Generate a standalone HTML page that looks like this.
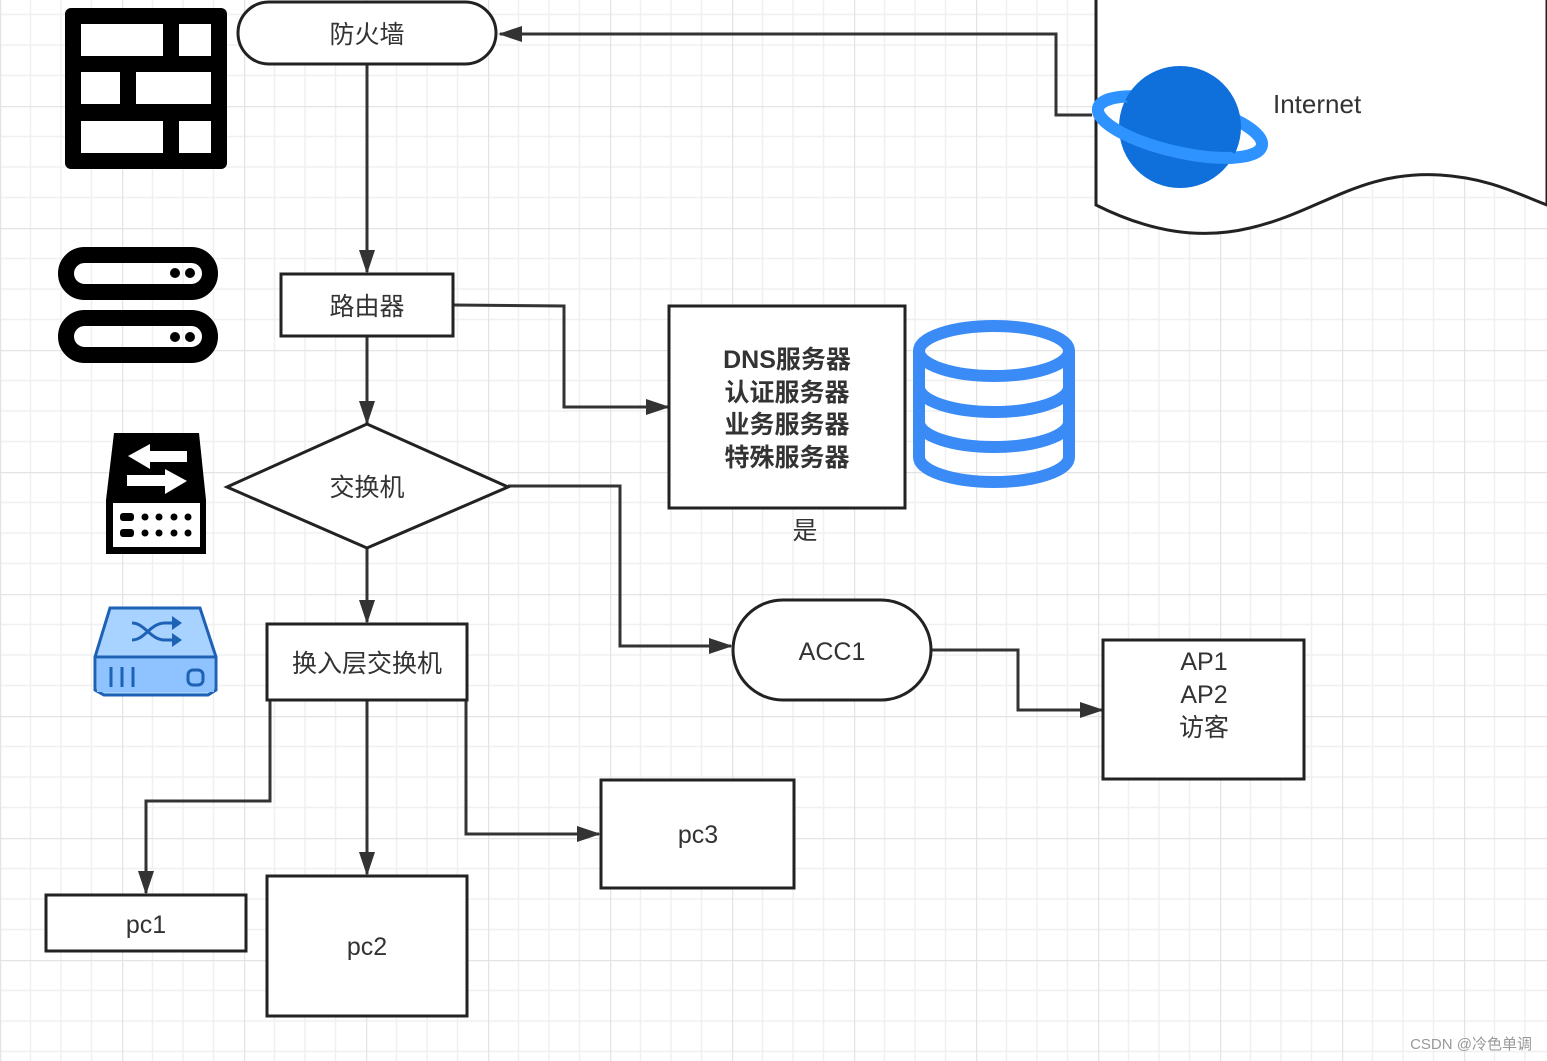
<!DOCTYPE html>
<html><head><meta charset="utf-8"><style>
html,body{margin:0;padding:0;background:#fff;}
svg{display:block}
text{font-family:"Liberation Sans","Noto Sans CJK SC",sans-serif;fill:#333;}
</style></head><body>
<svg width="1547" height="1061" viewBox="0 0 1547 1061" xmlns="http://www.w3.org/2000/svg">
<defs>
<pattern id="g" x="0" y="-16" width="122" height="122" patternUnits="userSpaceOnUse">
<path d="M30.5 0V122M61 0V122M91.5 0V122M0 30.5H122M0 61H122M0 91.5H122" stroke="#f0f0f0" stroke-width="1.5" fill="none"/>
<path d="M0 0V122M0 0H122" stroke="#e4e4e4" stroke-width="2.5" fill="none"/>
</pattern>
<marker id="a" markerWidth="24" markerHeight="16" refX="22" refY="8" orient="auto" markerUnits="userSpaceOnUse" viewBox="0 0 24 16"><path d="M0 0L24 8L0 16z" fill="#333"/></marker>
<clipPath id="front"><rect x="1000" y="127" width="400" height="200" transform="rotate(13 1180 127)"/></clipPath>
</defs>
<rect width="1547" height="1061" fill="url(#g)"/>

<!-- Internet shape -->
<path d="M1096 -5V205C1150 232 1200 240 1250 228C1320 212 1360 170 1440 175C1490 178 1520 195 1547 205V-5Z" fill="#fff" stroke="#222" stroke-width="3"/>
<ellipse cx="1180" cy="127" rx="84" ry="25" transform="rotate(13 1180 127)" fill="none" stroke="#2f93ff" stroke-width="12"/>
<circle cx="1180" cy="127" r="61" fill="#0f6fdb"/>
<ellipse cx="1180" cy="127" rx="84" ry="25" transform="rotate(13 1180 127)" fill="none" stroke="#2f93ff" stroke-width="12" clip-path="url(#front)"/>
<text x="1273" y="113" font-size="26">Internet</text>

<g stroke="#333" stroke-width="3" fill="none">
<path d="M1092 115H1056V34H500" marker-end="url(#a)"/>
<path d="M367 64V272" marker-end="url(#a)"/>
<path d="M453 305L564 306V407H668" marker-end="url(#a)"/>
<path d="M367 336V423" marker-end="url(#a)"/>
<path d="M508 486H620V646H731" marker-end="url(#a)"/>
<path d="M931 650H1018V710H1102" marker-end="url(#a)"/>
<path d="M367 548V622" marker-end="url(#a)"/>
<path d="M270 700V801H146V893" marker-end="url(#a)"/>
<path d="M367 700V874" marker-end="url(#a)"/>
<path d="M466 700V834H599" marker-end="url(#a)"/>
</g>

<g stroke="#222" stroke-width="3" fill="#fff">
<rect x="238" y="2" width="258" height="62" rx="31"/>
<rect x="281" y="274" width="172" height="62"/>
<rect x="669" y="306" width="236" height="202"/>
<path d="M227 487L367 424L508 487L367 548Z"/>
<rect x="733" y="600" width="198" height="100" rx="50"/>
<rect x="1103" y="640" width="201" height="139"/>
<rect x="267" y="624" width="200" height="76"/>
<rect x="46" y="895" width="200" height="56"/>
<rect x="267" y="876" width="200" height="140"/>
<rect x="601" y="780" width="193" height="108"/>
</g>

<g font-size="25" text-anchor="middle">
<text x="367" y="43">防火墙</text>
<text x="367" y="315">路由器</text>
<text x="367" y="496">交换机</text>
<text x="367" y="672">换入层交换机</text>
<text x="832" y="660">ACC1</text>
<text x="1204" y="670">AP1</text>
<text x="1204" y="703">AP2</text>
<text x="1204" y="736">访客</text>
<text x="146" y="933">pc1</text>
<text x="367" y="955">pc2</text>
<text x="698" y="843">pc3</text>
<text x="805" y="539">是</text>
</g>
<g font-size="25" font-weight="bold" text-anchor="middle">
<text x="787" y="368">DNS服务器</text>
<text x="787" y="401">认证服务器</text>
<text x="787" y="433">业务服务器</text>
<text x="787" y="466">特殊服务器</text>
</g>
<text x="1532" y="1049" font-size="15" text-anchor="end" style="fill:#999">CSDN @冷色单调</text>

<!-- firewall icon -->
<rect x="65" y="8" width="162" height="161" rx="6" fill="#000"/>
<g fill="#fff">
<rect x="81" y="24" width="82" height="32"/><rect x="179" y="24" width="32" height="32"/>
<rect x="81" y="72" width="39" height="32"/><rect x="136" y="72" width="75" height="32"/>
<rect x="81" y="121" width="82" height="32"/><rect x="179" y="121" width="32" height="32"/>
</g>
<!-- servers icon -->
<g fill="none" stroke="#000" stroke-width="16">
<rect x="66" y="255" width="144" height="37" rx="18.5"/>
<rect x="66" y="318" width="144" height="37" rx="18.5"/>
</g>
<g fill="#000"><circle cx="175" cy="273" r="5"/><circle cx="190" cy="273" r="5"/><circle cx="175" cy="337" r="5"/><circle cx="190" cy="337" r="5"/></g>
<!-- black switch -->
<path d="M114 433H199L206 500V554H106V500Z" fill="#000"/>
<rect x="113" y="503" width="87" height="44" fill="#fff"/>
<g fill="#fff"><path d="M128 456L150 444V451H187V462H150V469Z"/><path d="M187 481L165 469V475H127V486H165V494Z"/></g>
<g fill="#000"><rect x="120" y="513" width="14" height="8" rx="3"/><rect x="120" y="529" width="14" height="8" rx="3"/>
<circle cx="145" cy="517" r="3.5"/><circle cx="159" cy="517" r="3.5"/><circle cx="174" cy="517" r="3.5"/><circle cx="188" cy="517" r="3.5"/>
<circle cx="145" cy="533" r="3.5"/><circle cx="159" cy="533" r="3.5"/><circle cx="174" cy="533" r="3.5"/><circle cx="188" cy="533" r="3.5"/></g>
<!-- blue switch -->
<path d="M110 608H200L216 657V690L208 695H104L95 690V657Z" fill="#a8d2ff" stroke="#1e62b5" stroke-width="3"/>
<path d="M95 657H216" stroke="#1e62b5" stroke-width="3"/>
<rect x="97" y="659" width="117" height="33" fill="#8fc3ff"/>
<g stroke="#1e62b5" stroke-width="3" fill="none"><path d="M111 667V687M122 667V687M133 667V687"/><rect x="188" y="670" width="15" height="15" rx="5"/>
<path d="M132 623C145 623 150 640 165 640H175M132 640C145 640 150 623 165 623H175"/></g>
<g fill="#1e62b5"><path d="M172 616L182 623L172 630Z"/><path d="M172 633L182 640L172 647Z"/></g>
<!-- database -->
<g fill="none" stroke="#3a8bf5" stroke-width="12">
<ellipse cx="994" cy="351" rx="75" ry="25"/>
<path d="M919 351V457A75 25 0 0 0 1069 457V351"/>
<path d="M919 387A75 25 0 0 0 1069 387"/>
<path d="M919 422A75 25 0 0 0 1069 422"/>
</g>
</svg>
</body></html>
